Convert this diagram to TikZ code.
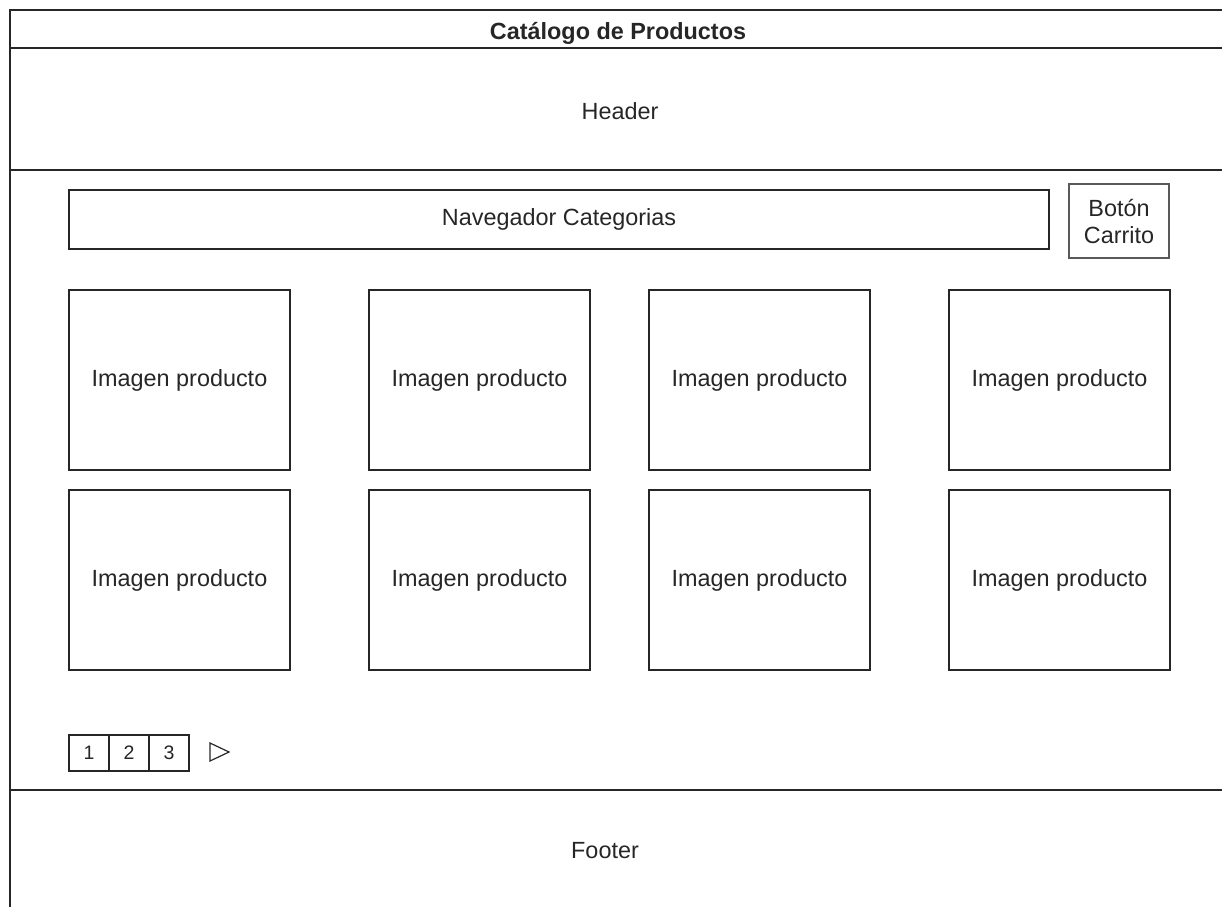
\documentclass[tikz,border=0pt]{standalone}
\usepackage{fontspec}
\setmainfont{Liberation Sans}
\definecolor{txt}{HTML}{262626}
\begin{document}
\begin{tikzpicture}[x=1pt,y=-1pt,
  frame/.style={line width=1.4pt,draw=black!85},
  box/.style={draw=black!85,line width=1.3pt,inner sep=0pt,text=txt,font=\fontsize{23.4}{27}\selectfont,align=center},
  lbl/.style={inner sep=0pt,text=txt,font=\fontsize{23.4}{27}\selectfont,align=center},
  pg/.style={draw=black!85,line width=1.3pt,inner sep=0pt,minimum width=40pt,minimum height=36pt,text=txt,font=\fontsize{19.5}{22}\selectfont}]
\useasboundingbox (0,0) rectangle (1222,907);
% frame
\coordinate (tl) at (10,10);
\coordinate (tr) at (1222,10);
\coordinate (bl) at (10,907);
\coordinate (t1l) at (10,48);  \coordinate (t1r) at (1222,48);
\coordinate (h1l) at (10,170); \coordinate (h1r) at (1222,170);
\coordinate (f1l) at (10,790); \coordinate (f1r) at (1222,790);
\draw[frame] (bl) -- (tl) -- (tr);
\draw[frame] (t1l) -- (t1r);
\draw[frame] (h1l) -- (h1r);
\draw[frame] (f1l) -- (f1r);
\node[lbl,font=\fontsize{23.4}{27}\selectfont\bfseries] (title) at (618,33.5) {Catálogo de Productos};
\node[lbl] (header) at (620,111) {Header};
\node[lbl] (footer) at (605,851) {Footer};
% navigator and cart
\node[box,minimum width=980pt,minimum height=59pt] (nav) at (559,219.5) {Navegador Categorias};
\node[box,draw=black!65,line width=2.4pt,minimum width=100pt,minimum height=74pt] (cart) at (1119,221) {Botón\\Carrito};
% products
\foreach \i/\x in {1/179.5,2/479.5,3/759.5,4/1059.5}{
  \node[box,minimum width=221pt,minimum height=180pt] (pa\i) at (\x,380) {Imagen producto};
  \node[box,minimum width=221pt,minimum height=180pt] (pb\i) at (\x,580) {Imagen producto};
}
% pagination
\node[pg] (p1) at (89,753) {1};
\node[pg] (p2) at (129,753) {2};
\node[pg] (p3) at (169,753) {3};
\coordinate (ta) at (210,743);
\coordinate (tb) at (229,752);
\coordinate (tc) at (210,761);
\draw[draw=black!85,line width=1.2pt,line join=miter] (ta) -- (tb) -- (tc) -- cycle;
\end{tikzpicture}
\end{document}
